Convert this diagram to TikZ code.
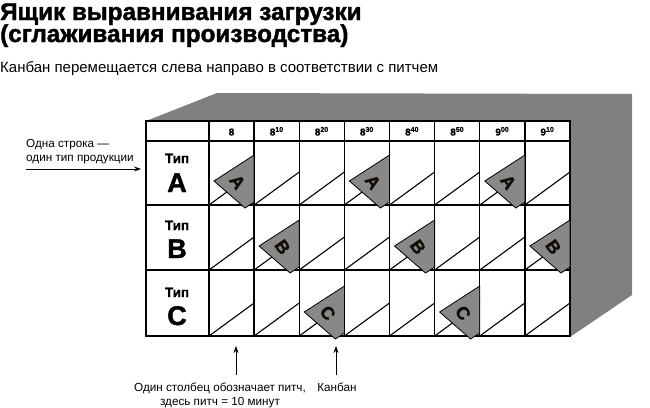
\documentclass[tikz,border=0pt]{standalone}
\usepackage{fontspec}
\setmainfont{Liberation Sans}
\newfontfamily\heavyfont{Liberation Sans Bold}[FakeBold=1.6]
\newfontfamily\semiheavy{Liberation Sans Bold}[FakeBold=0.8]
\usetikzlibrary{arrows.meta}
\definecolor{boxgray}{RGB}{128,128,128}
\definecolor{cardgray}{RGB}{136,136,136}
\newcommand\kancard[3]{%
  \begin{scope}[shift={(#1,#2)}]
    \draw[cardline] (5,-24) -- (45.125,-50) -- (45.125,-3) -- (36,3) -- cycle;
    \node[cardtext] at (28.5,-23) {#3};
  \end{scope}}
\begin{document}
\begin{tikzpicture}[x=1pt,y=-1pt,
  grid/.style={line width=1.4pt,line cap=rect},
  slot/.style={line width=1.1pt},
  cardline/.style={fill=cardgray,draw=black,line width=0.8pt,line join=miter},
  cardtext/.style={font=\heavyfont\fontsize{18}{18}\selectfont,text=black!90!brown,rotate=-55,inner sep=0pt},
  hdr/.style={font=\semiheavy\fontsize{10}{10}\selectfont,anchor=base,inner sep=0pt},
  typ/.style={font=\semiheavy\fontsize{13.5}{13.5}\selectfont,anchor=base,inner sep=0pt},
  big/.style={font=\heavyfont\fontsize{27}{27}\selectfont,anchor=base,inner sep=0pt},
  note/.style={font=\fontsize{11.7}{11.7}\selectfont,inner sep=0pt},
  arr/.style={-{Stealth[length=7pt,width=5pt]},line width=0.8pt}]
\useasboundingbox (0,0) rectangle (650,407);
% title
\node[font=\heavyfont\fontsize{24.3}{24.3}\selectfont,anchor=base west,inner sep=0pt] (t1) at (0,20) {Ящик выравнивания загрузки};
\node[font=\heavyfont\fontsize{24.3}{24.3}\selectfont,anchor=base west,inner sep=0pt] (t2) at (0,42) {(сглаживания производства)};
\node[font=\fontsize{15}{15}\selectfont,anchor=base west,inner sep=0pt] (sub) at (0,72) {Канбан перемещается слева направо в соответствии с питчем};
% box
\fill[boxgray] (146,121) -- (217,93) -- (632,94) -- (632,295) -- (570,337) -- (570,121) -- cycle;
\fill[white] (146,121) rectangle (570,336);
% slots
\foreach \r in {205,270,336}{
  \foreach \i in {0,...,7}{
    \draw[slot] ({209+45.125*\i},\r) -- ({209+45.125*(\i+1)},\r-33);
  }
}
% grid
\foreach \y in {141,205,270}{\draw[grid] (146,\y) -- (570,\y);}
\foreach \i in {1,...,7}{\draw[grid] ({209+45.125*\i},121) -- ({209+45.125*\i},336);}
\draw[grid] (209,121) -- (209,336);
\draw[line width=1.6pt] (146,121) rectangle (570,336);
% headers
\node[hdr] (h0) at (231.5,135.5) {8};
\node[hdr] (h1) at (276.7,135.5) {8\textsuperscript{10}};
\node[hdr] (h2) at (321.8,135.5) {8\textsuperscript{20}};
\node[hdr] (h3) at (366.9,135.5) {8\textsuperscript{30}};
\node[hdr] (h4) at (412.1,135.5) {8\textsuperscript{40}};
\node[hdr] (h5) at (457.2,135.5) {8\textsuperscript{50}};
\node[hdr] (h6) at (502.3,135.5) {9\textsuperscript{00}};
\node[hdr] (h7) at (547.4,135.5) {9\textsuperscript{10}};
% row labels
\node[typ] (ta) at (177,163) {Тип};
\node[big] (la) at (177,192) {A};
\node[typ] (tb) at (177,230) {Тип};
\node[big] (lb) at (177,258) {B};
\node[typ] (tc) at (177,297) {Тип};
\node[big] (lc) at (177,325) {C};
% cards
\kancard{209}{205}{A}
\kancard{344.4}{205}{A}
\kancard{479.8}{205}{A}
\kancard{254.1}{270}{B}
\kancard{389.5}{270}{B}
\kancard{524.9}{270}{B}
\kancard{299.3}{336}{C}
\kancard{434.6}{336}{C}
% left note
\node[note,anchor=base west] (n1) at (26,147) {Одна строка —};
\node[note,anchor=base west] (n2) at (26,161) {один тип продукции};
\coordinate (ls) at (26,169);
\coordinate (le) at (141,169);
\draw[arr] (ls) -- (le);
% bottom notes
\node[note,anchor=base] (b1) at (220,391) {Один столбец обозначает питч,};
\node[note,anchor=base] (b2) at (220,405) {здесь питч = 10 минут};
\node[note,anchor=base] (b3) at (337,391) {Канбан};
\coordinate (p1s) at (236,375);
\coordinate (p1e) at (236,346);
\coordinate (p2s) at (336,375);
\coordinate (p2e) at (336,346);
\draw[arr] (p1s) -- (p1e);
\draw[arr] (p2s) -- (p2e);
\end{tikzpicture}
\end{document}
